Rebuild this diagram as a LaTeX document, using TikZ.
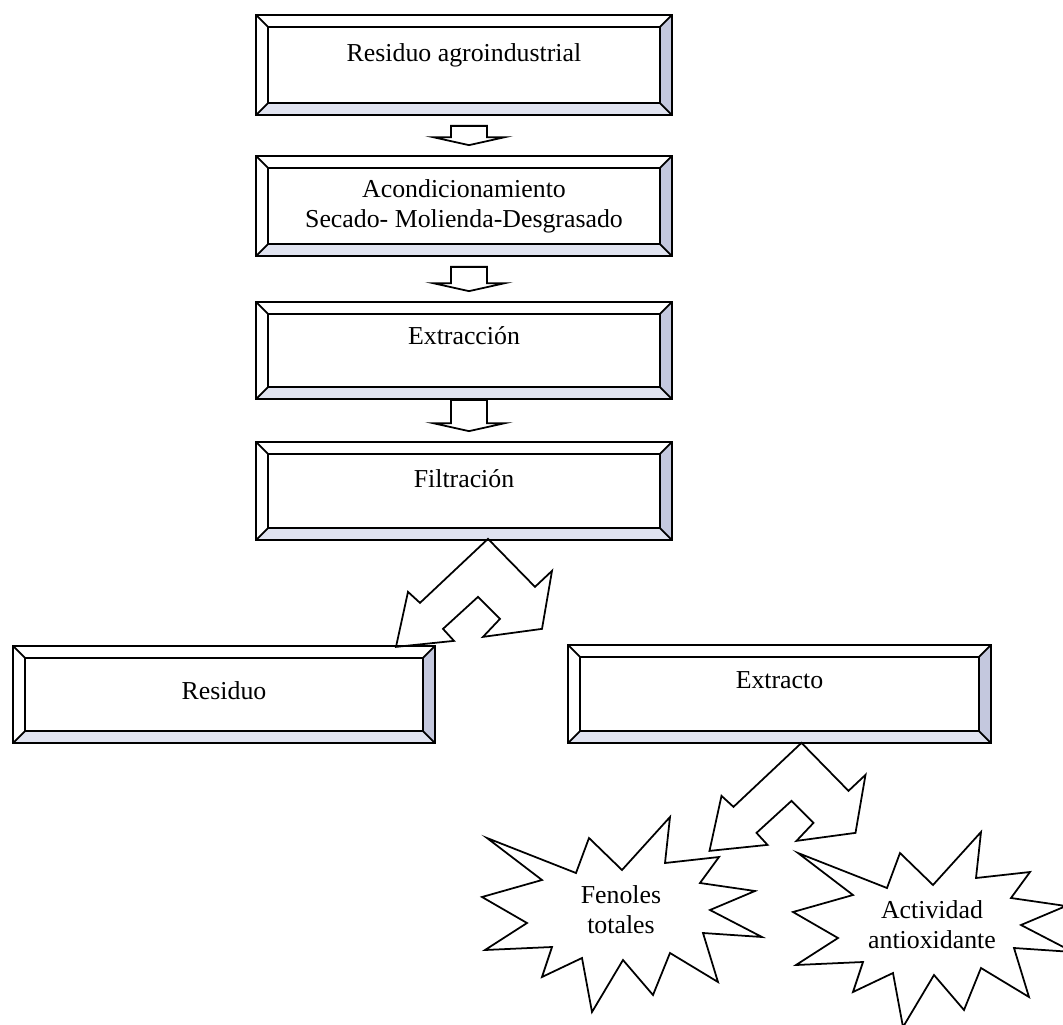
\documentclass[tikz,border=0pt]{standalone}
\usepackage{fontspec}
\setmainfont{Liberation Serif}
\usetikzlibrary{calc}
\definecolor{bevelbottom}{RGB}{224,227,240}
\definecolor{bevelright}{RGB}{196,200,222}
\newcommand\boxfont{\fontsize{14.7}{17}\selectfont}
\def\bev{7pt}
\tikzset{
	bevelbox/.style={draw, line width=1pt, inner sep=0pt, font=\boxfont,
		minimum width=8.32cm, minimum height=1.96cm,
		path picture={
			\path (path picture bounding box.south west) coordinate (psw)
			      (path picture bounding box.south east) coordinate (pse)
			      (path picture bounding box.north east) coordinate (pne)
			      (path picture bounding box.north west) coordinate (pnw);
			\fill[bevelbottom] (psw) -- (pse) -- ([shift={(-\bev,\bev)}]pse) -- ([shift={(\bev,\bev)}]psw) -- cycle;
			\fill[bevelright] (pse) -- (pne) -- ([shift={(-\bev,-\bev)}]pne) -- ([shift={(-\bev,\bev)}]pse) -- cycle;
			\draw[line width=1pt] ([shift={(\bev,\bev)}]psw) rectangle ([shift={(-\bev,-\bev)}]pne);
			\draw[line width=1pt] (psw) -- ++(\bev,\bev) (pse) -- ++(-\bev,\bev)
			      (pne) -- ++(-\bev,-\bev) (pnw) -- ++(\bev,-\bev);
		}},
	oneline/.style={text height=10.5pt, text depth=#1},
	outline/.style={draw, line width=1pt, line join=miter},
}
% down block arrow between two boxes: from, to, gap below the first box
\def\blockdown#1#2#3{\draw[outline] ($(#1.south)+(-13,#3)$) -- ($(#1.south)+(23,#3)$) -- ($(#2.north)+(23,-18)$) -- ($(#2.north)+(41,-18)$) -- ($(#2.north)+(5,-10)$) -- ($(#2.north)+(-31,-18)$) -- ($(#2.north)+(-13,-18)$) -- cycle;}
% forked arrow, apex given
\def\splitarrow#1{\draw[outline, shift={#1}] (0,0) -- (-68,64) -- (-80,53) -- (-92,108) -- (-34,102) -- (-45,90) -- (-10,58) -- (12,80) -- (-5,98) -- (54,90) -- (64,32) -- (47,48) -- cycle;}
% explosion round a node
\def\burst#1{\draw[outline, shift={(#1.center)}] (-134,-72) -- (-45,-37) -- (-32,-72) -- (1,-40) -- (49,-93) -- (44,-47) -- (98,-53) -- (79,-27) -- (134,-19) -- (89,0) -- (141,27) -- (82,23) -- (97,72) -- (49,43) -- (32,85) -- (2,50) -- (-29,102) -- (-39,48) -- (-79,67) -- (-69,37) -- (-136,40) -- (-94,13) -- (-139,-13) -- (-79,-30) -- cycle;}

\begin{document}
\begin{tikzpicture}[x=0.02cm, y=-0.02cm]
	%%%%% START %%%%%
	\useasboundingbox (0,0) rectangle (1063,1025);
	
	\node[bevelbox, oneline=14pt, minimum height=2cm] (agro) at (464,65) {Residuo agroindustrial};
	\node[bevelbox, minimum height=2cm, align=center] (acond) at (464,206) {Acondicionamiento\\Secado- Molienda-Desgrasado};
	\node[bevelbox, oneline=17pt, minimum height=1.94cm] (extr) at (464,350.5) {Extracción};
	\node[bevelbox, oneline=15pt] (filt) at (464,491) {Filtración};
	
	\blockdown{agro}{acond}{10}
	\blockdown{acond}{extr}{10}
	\blockdown{extr}{filt}{0}
	
	\node[bevelbox, oneline=4.5pt, minimum width=8.44cm, minimum height=1.94cm] (resid) at (224,694.5) {Residuo};
	\node[bevelbox, oneline=17pt, minimum width=8.46cm] (extracto) at (779.5,694) {Extracto};
	
	\splitarrow{($(filt.south)+(24,-2)$)}
	\splitarrow{($(extracto.south)+(22,-1)$)}
	
	\node[font=\boxfont, align=center] (fenol) at (621,910) {Fenoles\\totales};
	\burst{fenol}
	
	\node[font=\boxfont, align=center] (activ) at (932,925) {Actividad\\antioxidante};
	\burst{activ}
	
	%%%%% END %%%%%
\end{tikzpicture}
\end{document}
